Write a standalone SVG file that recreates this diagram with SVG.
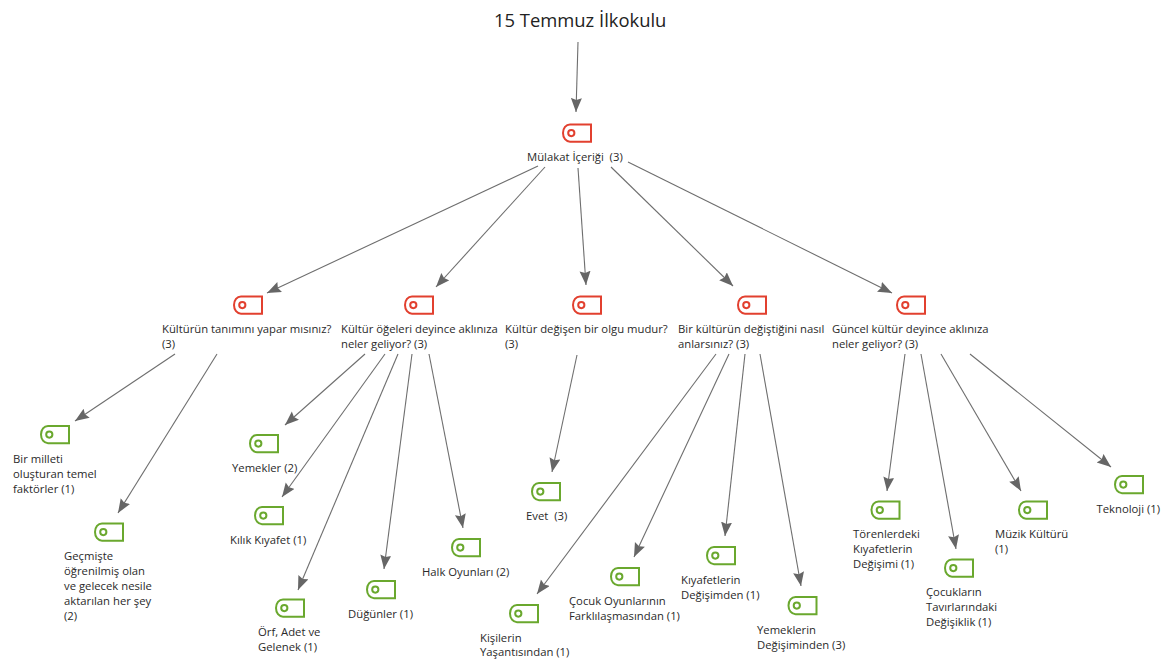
<svg xmlns="http://www.w3.org/2000/svg" width="1171" height="659" viewBox="0 0 1171 659">
<style>
text{font-family:"Open Sans","Noto Sans","Liberation Sans",sans-serif;font-size:11.3px;fill:#2a2a2a;white-space:pre}
.t{font-size:18.4px;fill:#222}
.c line{stroke:#6e6e6e;stroke-width:1.1;marker-end:url(#a)}
.r{fill:none;stroke:#e2402f;stroke-width:2}
.g{fill:none;stroke:#6aa82e;stroke-width:2}
</style>
<defs>
<marker id="a" markerUnits="userSpaceOnUse" markerWidth="16" markerHeight="14" refX="14" refY="5.500" orient="auto"><path d="M0 0L14 5.500L0 11L2 5.500Z" fill="#666"/></marker>
<g id="i"><path d="M8 1H29V18.200H8C4 18.200 1 14.500 1 9.600C1 4.700 4 1 8 1Z"/><circle cx="9.300" cy="9.600" r="3.100"/></g>
</defs>
<g class="c">
<line x1="578" y1="42" x2="576" y2="112"/>
<line x1="538" y1="166" x2="267" y2="293"/>
<line x1="545" y1="167" x2="436" y2="287"/>
<line x1="578" y1="168" x2="586" y2="285"/>
<line x1="611" y1="167" x2="733" y2="286"/>
<line x1="628" y1="162" x2="892" y2="293"/>
<line x1="175" y1="354" x2="75" y2="421"/>
<line x1="217" y1="354" x2="118" y2="513"/>
<line x1="365" y1="354" x2="285" y2="425"/>
<line x1="385" y1="354" x2="282" y2="497"/>
<line x1="398" y1="354" x2="298" y2="590"/>
<line x1="412" y1="354" x2="384" y2="569"/>
<line x1="429" y1="354" x2="463" y2="528"/>
<line x1="577" y1="355" x2="552" y2="472"/>
<line x1="716" y1="354" x2="537" y2="594"/>
<line x1="729" y1="354" x2="634" y2="557"/>
<line x1="745" y1="354" x2="725" y2="536"/>
<line x1="760" y1="354" x2="801" y2="586"/>
<line x1="905" y1="354" x2="887" y2="491"/>
<line x1="921" y1="354" x2="956" y2="549"/>
<line x1="941" y1="354" x2="1021" y2="491"/>
<line x1="970" y1="354" x2="1111" y2="467"/>
</g>
<g id="title"><text class="t" x="494" y="27">15 Temmuz İlkokulu</text></g>
<g id="n0"><use href="#i" class="r" x="562" y="123.500"/><text x="527" y="161">Mülakat İçeriği  (3)</text></g>
<g id="n1"><use href="#i" class="r" x="233" y="295.500"/><text x="162" y="333">Kültürün tanımını yapar mısınız?</text><text x="162" y="348">(3)</text></g>
<g id="n2"><use href="#i" class="r" x="404" y="295.500"/><text x="341" y="333">Kültür öğeleri deyince aklınıza</text><text x="341" y="348">neler geliyor? (3)</text></g>
<g id="n3"><use href="#i" class="r" x="572" y="295.500"/><text x="505" y="333">Kültür değişen bir olgu mudur?</text><text x="505" y="348">(3)</text></g>
<g id="n4"><use href="#i" class="r" x="737" y="295.500"/><text x="678" y="333">Bir kültürün değiştiğini nasıl</text><text x="678" y="348">anlarsınız? (3)</text></g>
<g id="n5"><use href="#i" class="r" x="896" y="295.500"/><text x="832" y="333">Güncel kültür deyince aklınıza</text><text x="832" y="348">neler geliyor? (3)</text></g>
<g id="n6"><use href="#i" class="g" x="40" y="425"/><text x="13" y="462.500">Bir milleti</text><text x="13" y="477.500">oluşturan temel</text><text x="13" y="492.500">faktörler (1)</text></g>
<g id="n7"><use href="#i" class="g" x="94" y="522.500"/><text x="64" y="559.500">Geçmişte</text><text x="64" y="574.500">öğrenilmiş olan</text><text x="64" y="589.500">ve gelecek nesile</text><text x="64" y="604.500">aktarılan her şey</text><text x="64" y="619.500">(2)</text></g>
<g id="n8"><use href="#i" class="g" x="249" y="434"/><text x="232" y="472">Yemekler (2)</text></g>
<g id="n9"><use href="#i" class="g" x="254" y="506"/><text x="230" y="544">Kılık Kıyafet (1)</text></g>
<g id="n10"><use href="#i" class="g" x="275" y="598.500"/><text x="258" y="636">Örf, Adet ve</text><text x="258" y="651">Gelenek (1)</text></g>
<g id="n11"><use href="#i" class="g" x="366" y="580"/><text x="348" y="618">Düğünler (1)</text></g>
<g id="n12"><use href="#i" class="g" x="451" y="538"/><text x="422" y="576">Halk Oyunları (2)</text></g>
<g id="n13"><use href="#i" class="g" x="531" y="482"/><text x="526" y="520">Evet  (3)</text></g>
<g id="n14"><use href="#i" class="g" x="509" y="604"/><text x="480" y="641.500">Kişilerin</text><text x="480" y="656">Yaşantısından (1)</text></g>
<g id="n15"><use href="#i" class="g" x="610" y="567"/><text x="569" y="605">Çocuk Oyunlarının</text><text x="569" y="620">Farklılaşmasından (1)</text></g>
<g id="n16"><use href="#i" class="g" x="706" y="546"/><text x="681" y="584">Kıyafetlerin</text><text x="681" y="599">Değişimden (1)</text></g>
<g id="n17"><use href="#i" class="g" x="787.500" y="596"/><text x="757" y="633.500">Yemeklerin</text><text x="757" y="648.500">Değişiminden (3)</text></g>
<g id="n18"><use href="#i" class="g" x="870.500" y="500.500"/><text x="853" y="538">Törenlerdeki</text><text x="853" y="553">Kıyafetlerin</text><text x="853" y="568">Değişimi (1)</text></g>
<g id="n19"><use href="#i" class="g" x="944" y="558.500"/><text x="926" y="596">Çocukların</text><text x="926" y="611">Tavırlarındaki</text><text x="926" y="626">Değişiklik (1)</text></g>
<g id="n20"><use href="#i" class="g" x="1018" y="500.500"/><text x="995" y="538">Müzik Kültürü</text><text x="995" y="553">(1)</text></g>
<g id="n21"><use href="#i" class="g" x="1114" y="475"/><text x="1096.500" y="513">Teknoloji (1)</text></g>
</svg>
